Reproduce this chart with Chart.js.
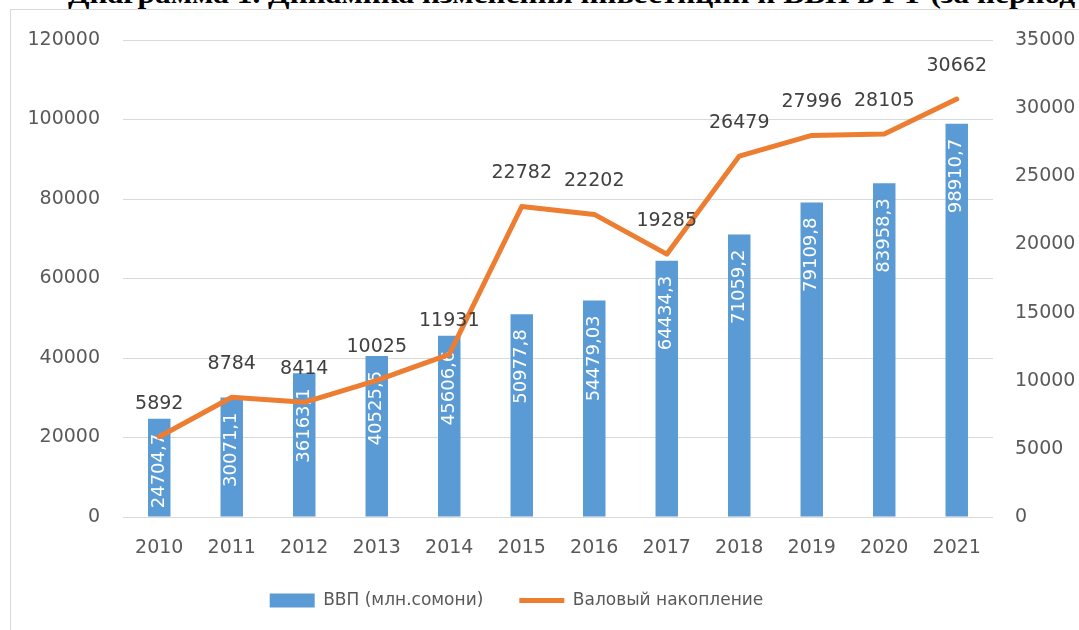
<!DOCTYPE html>
<html lang="ru">
<head>
<meta charset="utf-8">
<title>Динамика инвестиций и ВВП</title>
<script src="https://cdn.jsdelivr.net/npm/chart.js@4.4.1/dist/chart.umd.min.js"></script>
<style>
  html, body { margin: 0; padding: 0; background: #fff; width: 1079px; height: 630px; overflow: hidden; }
  #title { position: absolute; left: 68px; top: -20px; font: bold 28px "Liberation Serif", serif; line-height: 28px;
           white-space: nowrap; color: #000; transform-origin: 0 0; }
  #frame { position: absolute; left: 10px; top: 9px; width: 1200px; height: 800px; border: 1px solid #d9d9d9; background: #fff; }
  #chart { position: absolute; left: 0; top: 0; }
</style>
</head>
<body>
<div id="title">Диаграмма 1. Динамика изменения инвестиций и ВВП в РТ (за период</div>
<div id="frame"></div>
<canvas id="chart" width="1079" height="630"></canvas>
<script>
const YEARS = ['2010', '2011', '2012', '2013', '2014', '2015', '2016', '2017', '2018', '2019', '2020', '2021'];
const GDP = [24704.7, 30071.1, 36163.1, 40525.5, 45606.6, 50977.8, 54479.03, 64434.3, 71059.2, 79109.8, 83958.3, 98910.7];
const ACCUM = [5892, 8784, 8414, 10025, 11931, 22782, 22202, 19285, 26479, 27996, 28105, 30662];
const GDP_TICKS = { max: 120000, step: 20000 };
const ACCUM_TICKS = { max: 35000, step: 5000 };

const FONT = 'DejaVu Sans';
const TICK_COLOR = '#595959';

// stretch the header line to its column width
const title = document.getElementById('title');
title.style.transform = `scaleX(${1007 / title.offsetWidth})`;

const fmt = v => String(v).replace('.', ',');

// value labels: white, rotated inside the top of each bar; dark above each line point
const valueLabels = {
  id: 'valueLabels',
  afterDatasetDraw(chart, args) {
    const { ctx } = chart;
    const ds = chart.data.datasets[args.index];
    ctx.save();
    ctx.textBaseline = 'middle';
    if (ds.type === 'bar') {
      ctx.font = `18px "${FONT}"`;
      ctx.fillStyle = '#fff';
      ctx.textAlign = 'right';
      args.meta.data.forEach((bar, i) => {
        ctx.save();
        ctx.translate(bar.x, bar.y + 15);
        ctx.rotate(-Math.PI / 2);
        ctx.fillText(fmt(ds.data[i]), 0, 0);
        ctx.restore();
      });
    } else {
      ctx.font = `19px "${FONT}"`;
      ctx.fillStyle = '#404040';
      ctx.textAlign = 'center';
      args.meta.data.forEach((pt, i) => ctx.fillText(fmt(ds.data[i]), pt.x, pt.y - 33));
    }
    ctx.restore();
  }
};

Chart.defaults.font.family = FONT;

// plain integers on the value axes, no thousands separator
const plain = v => String(v);

new Chart(document.getElementById('chart'), {
  data: {
    labels: YEARS,
    datasets: [
      {
        type: 'bar', label: 'ВВП (млн.сомони)', data: GDP, yAxisID: 'y', order: 1,
        backgroundColor: '#5b9bd5', borderWidth: 0, categoryPercentage: 1, barPercentage: 0.31
      },
      {
        type: 'line', label: 'Валовый накопление', data: ACCUM, yAxisID: 'y1', order: 0,
        borderColor: '#ed7d31', backgroundColor: '#ed7d31', borderWidth: 5, pointRadius: 0, tension: 0,
        borderCapStyle: 'round', borderJoinStyle: 'round'
      }
    ]
  },
  options: {
    responsive: false,
    animation: false,
    // negative left padding pulls the bottom legend's centre to the left
    layout: { padding: { left: -46, right: 0, top: 40, bottom: 11 } },
    plugins: {
      tooltip: { enabled: false },
      legend: {
        position: 'bottom',
        labels: {
          font: { size: 17 }, color: TICK_COLOR, usePointStyle: true, pointStyleWidth: 45, boxHeight: 14, padding: 36,
          generateLabels(chart) {
            const items = Chart.defaults.plugins.legend.labels.generateLabels(chart);
            items.forEach(it => { it.pointStyle = chart.data.datasets[it.datasetIndex].type === 'bar' ? 'rect' : 'line'; });
            return items.sort((a, b) => a.datasetIndex - b.datasetIndex);
          }
        }
      }
    },
    scales: {
      x: {
        grid: { display: false, drawTicks: false }, border: { display: false },
        ticks: { color: TICK_COLOR, font: { size: 19 }, padding: 20, maxRotation: 0 },
        afterFit: s => { s.height = 39; }
      },
      y: {
        position: 'left', min: 0, max: GDP_TICKS.max,
        grid: { color: '#d9d9d9', drawTicks: false }, border: { display: false },
        ticks: { stepSize: GDP_TICKS.step, color: TICK_COLOR, font: { size: 19 }, padding: 23, callback: plain },
        afterFit: s => { s.width = 169; }
      },
      y1: {
        position: 'right', min: 0, max: ACCUM_TICKS.max,
        grid: { display: false, drawTicks: false }, border: { display: false },
        ticks: { stepSize: ACCUM_TICKS.step, color: TICK_COLOR, font: { size: 19 }, padding: 22, callback: plain },
        afterFit: s => { s.width = 86; }
      }
    }
  },
  plugins: [valueLabels]
});
</script>
</body>
</html>
